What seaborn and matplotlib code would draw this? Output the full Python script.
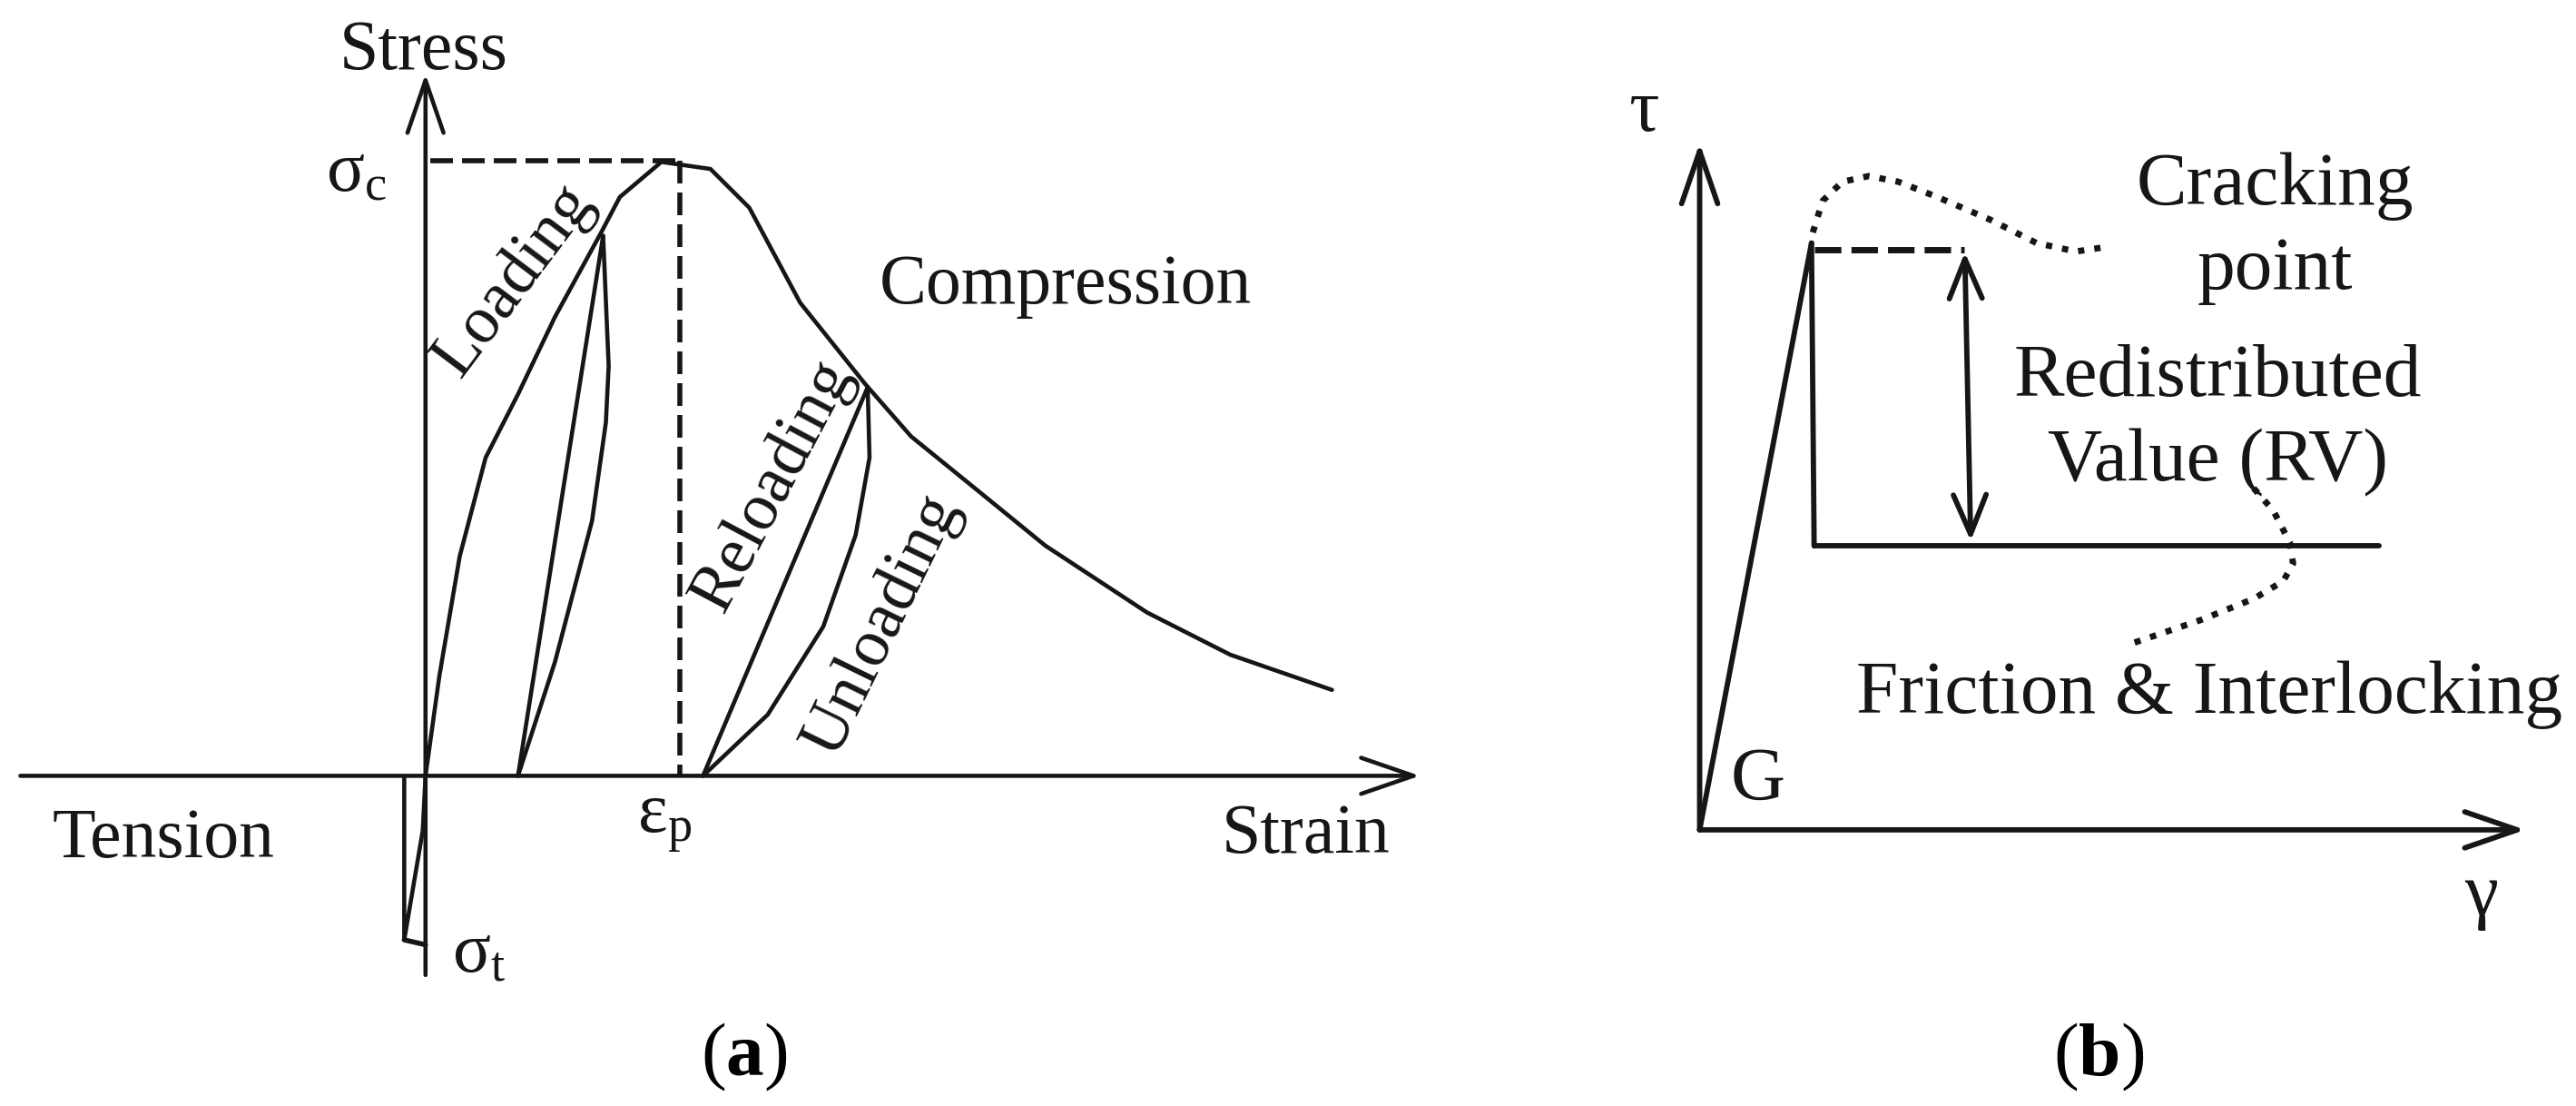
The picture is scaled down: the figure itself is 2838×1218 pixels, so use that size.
import matplotlib
matplotlib.use("Agg")
import matplotlib.pyplot as plt
import pandas as pd
import seaborn as sns

sns.set_theme(style="white")
plt.rcParams["font.family"] = ["Liberation Serif", "DejaVu Serif"]
plt.rcParams["mathtext.fontset"] = "custom"
plt.rcParams["mathtext.rm"] = "Liberation Serif"
plt.rcParams["mathtext.bf"] = "Liberation Serif:bold"
plt.rcParams["mathtext.it"] = "Liberation Serif:italic"

INK = "#161616"

# ---------- panel (a): strain / stress ----------
envelope_strain = [0, 0.15, 0.37, 0.65, 1.00, 1.40, 1.90, 2.10, 2.55, 3.08, 3.50, 4.05, 4.75, 5.25, 6.00, 6.70, 7.80, 8.70, 9.80]
envelope_stress = [0, 1.42, 3.12, 4.52, 5.42, 6.52, 7.72, 8.22, 8.72, 8.62, 8.07, 6.72, 5.57, 4.82, 4.02, 3.27, 2.32, 1.72, 1.22]
unload1_strain = [1.92, 1.98, 1.95, 1.80, 1.40, 1.00]
unload1_stress = [7.67, 5.82, 5.02, 3.62, 1.62, 0]
reload1_strain = [1.00, 1.92]
reload1_stress = [0, 7.67]
unload2_strain = [4.78, 4.80, 4.65, 4.30, 3.70, 3.00]
unload2_stress = [5.52, 4.52, 3.42, 2.12, 0.87, 0]
reload2_strain = [3.00, 4.78]
reload2_stress = [0, 5.52]
tension_strain = [0, -0.03, -0.23, -0.23]
tension_stress = [0, -0.78, -2.33, 0]
tension_end_strain = [-0.23, 0]
tension_end_stress = [-2.33, -2.40]
peak_h_strain = [0.05, 2.75]
peak_h_stress = [8.74, 8.74]
peak_v_strain = [2.75, 2.75]
peak_v_stress = [8.74, 0.02]
axis_a_x = [-4.38, 10.75]
axis_a_y = [-2.83, 9.97]

labels_a = ["Stress", "Compression", "Tension", "Strain"]
labels_a_x = [-0.02, 6.92, -2.83, 9.52]
labels_a_y = [10.28, 6.96, -0.91, -0.85]
rot_labels_a = ["Loading", "Reloading", "Unloading"]
rot_labels_a_x = [0.96, 3.76, 4.94]
rot_labels_a_y = [7.04, 4.12, 2.14]
rot_labels_a_rot = [53, 62, 64]
sym_labels_a = [r"$\mathrm{σ_c}$", r"$\mathrm{ε_p}$", r"$\mathrm{σ_t}$"]
sym_labels_a_x = [-0.75, 2.58, 0.58]
sym_labels_a_y = [8.55, -0.66, -2.55]

# ---------- panel (b): gamma / tau ----------
elastic_gamma = [0, 1.70]
elastic_tau = [0, 8.33]
drop_gamma = [1.70, 1.74]
drop_tau = [8.33, 4.03]
residual_gamma = [1.74, 10.32]
residual_tau = [4.03, 4.03]
dash_gamma = [1.74, 4.02]
dash_tau = [8.23, 8.23]
dotted_peak_gamma = [1.72, 1.87, 2.17, 2.57, 3.02, 3.62, 4.42, 5.12, 5.72, 6.22]
dotted_peak_tau = [8.48, 8.93, 9.20, 9.28, 9.20, 8.98, 8.66, 8.33, 8.21, 8.28]
dotted_low_gamma = [8.42, 8.72, 8.97, 9.02, 8.87, 8.42, 7.62, 6.52]
dotted_low_tau = [4.85, 4.53, 4.08, 3.78, 3.53, 3.28, 2.98, 2.63]
axis_b_x = [0, 12.55]
axis_b_y = [0, 9.75]
rv_gamma = [4.03, 4.12]
rv_tau = [8.20, 4.10]

labels_b = ["Cracking", "point", "Redistributed", "Value (RV)", "Friction & Interlocking", "G"]
labels_b_x = [8.74, 8.74, 7.88, 7.88, 7.75, 0.88]
labels_b_y = [9.14, 7.94, 6.41, 5.21, 1.91, 0.69]
sym_labels_b = ["τ", "γ"]
sym_labels_b_x = [-0.85, 11.88]
sym_labels_b_y = [10.18, -0.95]

fig = plt.figure(figsize=(28.38, 12.18), dpi=100, facecolor="white")
ax_a = fig.add_axes([0, 0, 1600 / 2838, 1])
ax_b = fig.add_axes([1700 / 2838, 0, 1138 / 2838, 1])
ax_a.set_xlim(-4.6, 11.1)
ax_a.set_ylim(-4.69, 11.02)
ax_b.set_xlim(-2.38, 13.32)
ax_b.set_ylim(-3.92, 11.78)
for ax in (ax_a, ax_b):
    ax.axis("off")


def curve(ax, x, y, lw, ls="-"):
    frame = pd.DataFrame({"x": x, "y": y})
    sns.lineplot(data=frame, x="x", y="y", ax=ax, color=INK, linewidth=lw,
                 linestyle=ls, estimator=None, sort=False, legend=False)
    ax.set_xlabel("")
    ax.set_ylabel("")


def arrow(ax, start, end, lw, style="->,head_length=1.6,head_width=0.55"):
    ax.annotate("", xy=end, xytext=start, annotation_clip=False,
                arrowprops=dict(arrowstyle=style, color=INK, lw=lw,
                                shrinkA=0, shrinkB=0, mutation_scale=26))


LW_A = 3.3
for x, y in [(envelope_strain, envelope_stress), (unload1_strain, unload1_stress),
             (reload1_strain, reload1_stress), (unload2_strain, unload2_stress),
             (reload2_strain, reload2_stress), (tension_strain, tension_stress)]:
    curve(ax_a, x, y, LW_A)
curve(ax_a, tension_end_strain, tension_end_stress, 4.0)
curve(ax_a, peak_h_strain, peak_h_stress, 4.0, (0, (4.5, 1.8)))
curve(ax_a, peak_v_strain, peak_v_stress, 4.0, (0, (4.5, 1.8)))
arrow(ax_a, (axis_a_x[0], 0), (axis_a_x[1], 0), LW_A)
arrow(ax_a, (0, axis_a_y[0]), (0, axis_a_y[1]), LW_A)

FS_A = 56
FS_ROT = 53
FS_B = 60
for s, x, y in zip(labels_a, labels_a_x, labels_a_y):
    ax_a.text(x, y, s, fontsize=FS_A, ha="center", va="center", color=INK)
for s, x, y, r in zip(rot_labels_a, rot_labels_a_x, rot_labels_a_y, rot_labels_a_rot):
    ax_a.text(x, y, s, fontsize=FS_ROT, ha="center", va="center", rotation=r,
              rotation_mode="anchor", color=INK)
for s, x, y in zip(sym_labels_a, sym_labels_a_x, sym_labels_a_y):
    ax_a.text(x, y, s, fontsize=FS_A, ha="center", va="center", color=INK)

LW_B = 4.2
for x, y in [(elastic_gamma, elastic_tau), (drop_gamma, drop_tau), (residual_gamma, residual_tau)]:
    curve(ax_b, x, y, LW_B)
curve(ax_b, dash_gamma, dash_tau, 5.0, (0, (4.2, 1.6)))
curve(ax_b, dotted_peak_gamma, dotted_peak_tau, 5.0, (0, (1.0, 1.6)))
curve(ax_b, dotted_low_gamma, dotted_low_tau, 5.0, (0, (1.0, 1.6)))
arrow(ax_b, (0, 0), (axis_b_x[1], 0), LW_B)
arrow(ax_b, (0, 0), (0, axis_b_y[1]), LW_B)
arrow(ax_b, (rv_gamma[0], rv_tau[0]), (rv_gamma[1], rv_tau[1]), LW_B,
      style="<->,head_length=1.2,head_width=0.5")

for s, x, y in zip(labels_b, labels_b_x, labels_b_y):
    ax_b.text(x, y, s, fontsize=FS_B, ha="center", va="center", color=INK)
for s, x, y in zip(sym_labels_b, sym_labels_b_x, sym_labels_b_y):
    ax_b.text(x, y, s, fontsize=FS_B, ha="center", va="center", color=INK)

# panel letters
fig.text(820 / 2838, 1 - 1164 / 1218, r"($\mathbf{a}$)", fontsize=60, ha="center", va="center", color="black")
fig.text(2312 / 2838, 1 - 1164 / 1218, r"($\mathbf{b}$)", fontsize=60, ha="center", va="center", color="black")

fig.savefig("out.png", dpi=100, facecolor="white")
